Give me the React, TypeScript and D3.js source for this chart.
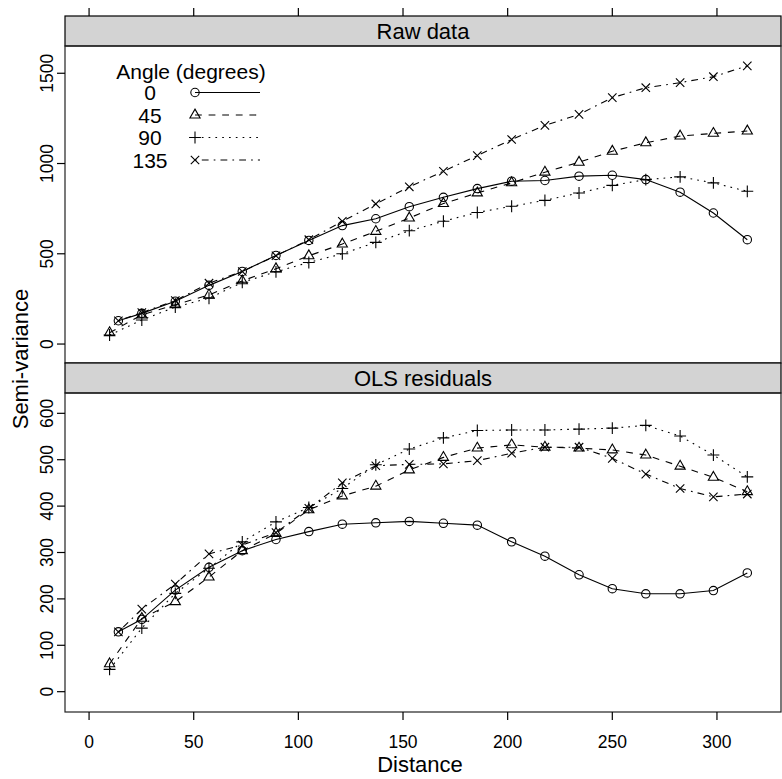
import * as d3 from "d3";

// lag distances (first lag differs between directions)
const lagsCircleCross = [14, 25.2, 41.2, 57.3, 73.2, 89.3, 105, 121, 137, 153, 169.3, 185.5, 201.9, 217.8, 234.1, 250, 266, 282.4, 298.3, 314.5];
const lagsTrianglePlus = [9.8, 25.2, 41.2, 57.3, 73.2, 89.3, 105, 121, 137, 153, 169.3, 185.5, 201.9, 217.8, 234.1, 250, 266, 282.4, 298.3, 314.5];

const angles = ["0", "45", "90", "135"];

// Raw data semi-variance
const raw0 = [129, 170, 237, 325, 402, 491, 574, 656, 694, 761, 813, 861, 902, 906, 930, 935, 911, 841, 726, 578];
const raw45 = [63, 161, 218, 272, 350, 417, 489, 554, 624, 698, 778, 837, 893, 952, 1007, 1068, 1115, 1152, 1167, 1180];
const raw90 = [50, 133, 205, 254, 342, 400, 452, 500, 563, 628, 680, 729, 763, 796, 837, 879, 911, 926, 893, 846];
const raw135 = [129, 174, 241, 337, 402, 489, 578, 680, 776, 871, 957, 1044, 1133, 1211, 1272, 1365, 1420, 1448, 1481, 1541];

// OLS residuals semi-variance
const ols0 = [129, 156, 219, 268, 304, 328, 345, 361, 364, 367, 363, 359, 323, 292, 252, 222, 211, 211, 218, 256];
const ols45 = [60, 158, 194, 247, 304, 341, 392, 422, 443, 478, 505, 525, 532, 527, 525, 521, 510, 486, 462, 431];
const ols90 = [48, 137, 212, 266, 323, 366, 397, 438, 489, 523, 547, 563, 564, 564, 566, 568, 574, 551, 510, 463];
const ols135 = [129, 178, 232, 297, 316, 343, 395, 450, 487, 490, 491, 498, 514, 527, 527, 503, 469, 438, 420, 426];

const distanceTicks = [0, 50, 100, 150, 200, 250, 300];
const rawTicks = [0, 500, 1000, 1500];
const olsTicks = [0, 100, 200, 300, 400, 500, 600];

const W = 782;
const H = 779;
const left = 65;
const right = 781;
const font = "'Liberation Sans', Arial, Helvetica, sans-serif";

const dashes = ["none", "6.8,6.8", "1.7,5.1", "1.7,5.1,6.8,5.1"];
const symbols = ["circle", "triangle", "plus", "cross"];
const R = 4.2;

function Symbol({ kind, x, y }: { kind: string; x: number; y: number }) {
  if (kind === "circle")
    return <circle cx={x} cy={y} r={R} fill="none" stroke="#000" strokeWidth={1.1} />;
  if (kind === "triangle") {
    const r = 1.4 * R;
    const xc = (r * Math.sqrt(3)) / 2;
    return (
      <path
        d={`M${x},${y - r}L${x + xc},${y + r / 2}L${x - xc},${y + r / 2}Z`}
        fill="none"
        stroke="#000"
        strokeWidth={1.1}
      />
    );
  }
  if (kind === "plus") {
    const s = Math.SQRT2 * R;
    return (
      <path d={`M${x - s},${y}H${x + s}M${x},${y - s}V${y + s}`} stroke="#000" strokeWidth={1.1} />
    );
  }
  return (
    <path
      d={`M${x - R},${y - R}L${x + R},${y + R}M${x - R},${y + R}L${x + R},${y - R}`}
      stroke="#000"
      strokeWidth={1.1}
    />
  );
}

const x = d3.scaleLinear().domain([-11.5, 330.6]).range([left, right]);

const panels = [
  {
    title: "Raw data",
    stripTop: 16,
    top: 46,
    bottom: 363,
    domain: [-105, 1651],
    ticks: rawTicks,
    series: [raw0, raw45, raw90, raw135],
  },
  {
    title: "OLS residuals",
    stripTop: 363,
    top: 393,
    bottom: 712,
    domain: [-43.8, 643.8],
    ticks: olsTicks,
    series: [ols0, ols45, ols90, ols135],
  },
];

export default function App() {
  return (
    <svg
      width={W}
      height={H}
      style={{ position: "absolute", left: 0, top: 0, background: "#fff" }}
      fontFamily={font}
    >
      {panels.map((p, pi) => {
        const y = d3.scaleLinear().domain(p.domain).range([p.bottom, p.top]);
        const lineGen = (xs: number[]) =>
          d3
            .line<number>()
            .x((_, i) => x(xs[i]))
            .y((d) => y(d));
        return (
          <g key={pi}>
            <rect
              x={left}
              y={p.stripTop}
              width={right - left}
              height={p.top - p.stripTop}
              fill="#d3d3d3"
              stroke="#000"
              strokeWidth={1.2}
            />
            <text
              x={(left + right) / 2}
              y={(p.stripTop + p.top) / 2 + 8}
              textAnchor="middle"
              fontSize={22}
            >
              {p.title}
            </text>
            <rect
              x={left}
              y={p.top}
              width={right - left}
              height={p.bottom - p.top}
              fill="none"
              stroke="#222"
              strokeWidth={1.2}
            />
            {p.ticks.map((t) => (
              <g key={t}>
                <line x1={left - 8} x2={left} y1={y(t)} y2={y(t)} stroke="#000" strokeWidth={1.2} />
                <text
                  transform={`translate(53,${y(t)}) rotate(-90)`}
                  textAnchor="middle"
                  fontSize={17.5}
                >
                  {t}
                </text>
              </g>
            ))}
            {p.series.map((vals, si) => {
              const xs = si === 0 || si === 3 ? lagsCircleCross : lagsTrianglePlus;
              return (
                <g key={si}>
                  <path
                    d={lineGen(xs)(vals) || ""}
                    fill="none"
                    stroke="#000"
                    strokeWidth={1.1}
                    strokeDasharray={dashes[si]}
                  />
                  {vals.map((v, i) => (
                    <Symbol key={i} kind={symbols[si]} x={x(xs[i])} y={y(v)} />
                  ))}
                </g>
              );
            })}
          </g>
        );
      })}

      {/* top ticks (no labels) */}
      {distanceTicks.map((t) => (
        <line key={"tt" + t} x1={x(t)} x2={x(t)} y1={8} y2={16} stroke="#000" strokeWidth={1.2} />
      ))}
      {/* bottom axis */}
      {distanceTicks.map((t) => (
        <g key={"bt" + t}>
          <line x1={x(t)} x2={x(t)} y1={712} y2={720} stroke="#000" strokeWidth={1.2} />
          <text x={x(t)} y={748} textAnchor="middle" fontSize={17.5}>
            {t}
          </text>
        </g>
      ))}

      {/* legend */}
      <text x={191} y={78.5} textAnchor="middle" fontSize={21}>
        Angle (degrees)
      </text>
      {angles.map((a, i) => {
        const ly = 92.5 + i * 22.5;
        return (
          <g key={a}>
            <text x={150} y={ly + 7.5} textAnchor="middle" fontSize={21}>
              {a}
            </text>
            <line
              x1={195}
              x2={260}
              y1={ly}
              y2={ly}
              stroke="#000"
              strokeWidth={1.1}
              strokeDasharray={dashes[i]}
            />
            <Symbol kind={symbols[i]} x={195} y={ly} />
          </g>
        );
      })}

      {/* axis labels */}
      <text x={420} y={772} textAnchor="middle" fontSize={22}>
        Distance
      </text>
      <text transform="translate(28,359) rotate(-90)" textAnchor="middle" fontSize={22}>
        Semi-variance
      </text>
    </svg>
  );
}
